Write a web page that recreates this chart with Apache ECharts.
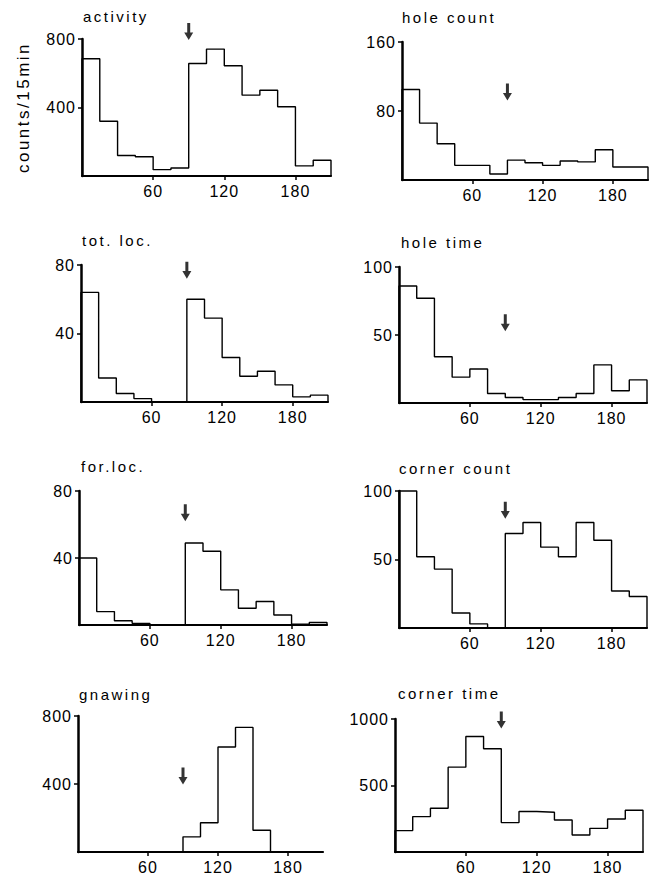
<!DOCTYPE html>
<html>
<head>
<meta charset="utf-8">
<script src="https://cdn.jsdelivr.net/npm/echarts@6/dist/echarts.min.js"></script>
<style>
  html, body { margin: 0; padding: 0; background: #fff; }
  #chart { width: 655px; height: 881px; }
  #chart text { letter-spacing: 2px; }
  #chart text[style*="15px"] { letter-spacing: 2.5px; }
  #chart text[style*="16px"] { letter-spacing: 1px; }
  #chart text[style*="17px"] { letter-spacing: 2.5px; }
</style>
</head>
<body>
<div id="chart"></div>
<script>
// ---- data (15-min bins, minutes) ----
const binStarts = [0, 15, 30, 45, 60, 75, 90, 105, 120, 135, 150, 165, 180, 195];
const binWidth = 15;
const xTicks = [60, 120, 180];
const arrowTime = 90;

const titles = ['activity', 'hole count', 'tot. loc.', 'hole time', 'for.loc.', 'corner count', 'gnawing', 'corner time'];

const activity    = [685, 320, 120, 112, 37, 47, 657, 741, 644, 472, 501, 404, 59, 92];
const holeCount   = [105, 66, 42, 17, 17, 7, 23, 20, 17, 22, 21, 35, 15, 15];
const totLoc      = [64, 14, 5, 2, 0, 0, 60, 49, 26, 15, 18, 10, 3, 4];
const holeTime    = [86, 77, 34, 19, 25, 7, 4, 2.5, 2.5, 4, 7, 28, 9, 17];
const forLoc      = [40, 8, 2.5, 1, 0, 0, 49, 44, 21, 10, 14, 6, 0.5, 1.5];
const cornerCount = [100, 52, 43, 11, 3, 0, 69, 77, 59, 52, 77, 64, 27, 23];
const gnawing     = [0, 0, 0, 0, 0, 0, 89, 172, 618, 733, 128, 0, 0, 0];
const cornerTime  = [161, 266, 329, 638, 868, 776, 221, 304, 299, 241, 128, 178, 248, 314];

const yMax   = [800, 160, 80, 100, 80, 100, 800, 1000];
const yTicks = [[400, 800], [80, 160], [40, 80], [50, 100], [40, 80], [50, 100], [400, 800], [500, 1000]];
const arrowY = [844, 102, 77, 59, 67, 86, 447, 992];

const seriesValues = [activity, holeCount, totLoc, holeTime, forLoc, cornerCount, gnawing, cornerTime];
const yName = 'counts/15min';

// ---- layout (pixels) ----
const grids = [
  { left: 82,  top: 39,  width: 249, height: 137 },
  { left: 402, top: 42,  width: 246, height: 138 },
  { left: 81,  top: 265, width: 247, height: 137 },
  { left: 399, top: 267, width: 248, height: 136 },
  { left: 79,  top: 491, width: 248, height: 134 },
  { left: 399, top: 491, width: 248, height: 137 },
  { left: 78,  top: 716, width: 245, height: 136 },
  { left: 395, top: 719, width: 248, height: 133 }
];
const titlePos = [
  [83, 9], [402, 10], [82, 233], [401, 235], [81, 459], [399, 461], [79, 687], [398, 686]
];

const FONT = '"Liberation Sans", Arial, sans-serif';
const INK = '#000';
const arrowPath = 'path://M3,0 L6,0 L6,10 L9,10 L4.5,18 L0,10 L3,10 Z';

function toSteps(values) {
  const xMax = binStarts[binStarts.length - 1] + binWidth;
  const pts = [[binStarts[0], 0]];
  values.forEach((v, i) => pts.push([binStarts[i], v]));
  pts.push([xMax, values[values.length - 1]]);
  pts.push([xMax, 0]);
  return pts;
}

const option = {
  backgroundColor: '#fff',
  animation: false,
  grid: grids.map(g => Object.assign({ containLabel: false }, g)),
  xAxis: grids.map((g, i) => ({
    type: 'value', gridIndex: i, min: 0, max: binStarts[binStarts.length - 1] + binWidth,
    interval: 30,
    axisLine: { show: true, onZero: false, lineStyle: { color: INK, width: 2.2 } },
    axisTick: { show: true, length: 4, customValues: xTicks, lineStyle: { color: INK, width: 1.5 } },
    axisLabel: { show: true, customValues: xTicks, margin: 7, color: INK, fontSize: 16, fontFamily: FONT,
                 formatter: v => String(v) },
    splitLine: { show: false }
  })),
  yAxis: grids.map((g, i) => ({
    type: 'value', gridIndex: i, min: 0, max: yMax[i], interval: yMax[i] / 2,
    name: i === 0 ? yName : '',
    nameLocation: 'middle', nameRotate: 90, nameGap: 50,
    nameTextStyle: { color: INK, fontSize: 17, fontFamily: FONT },
    axisLine: { show: true, lineStyle: { color: INK, width: 2.5 } },
    axisTick: { show: true, length: 4, customValues: yTicks[i], lineStyle: { color: INK, width: 1.5 } },
    axisLabel: { show: true, customValues: yTicks[i], margin: 6, color: INK, fontSize: 16, fontFamily: FONT,
                 formatter: v => String(v) },
    splitLine: { show: false }
  })),
  series: [].concat(
    seriesValues.map((vals, i) => ({
      type: 'line', xAxisIndex: i, yAxisIndex: i, step: 'end',
      data: toSteps(vals), symbol: 'none', clip: false, silent: true,
      lineStyle: { color: INK, width: 1.4 }
    })),
    arrowY.map((ay, i) => ({
      type: 'scatter', xAxisIndex: i, yAxisIndex: i, clip: false, silent: true,
      data: [[arrowTime, ay]], symbol: arrowPath, symbolSize: [9, 17],
      itemStyle: { color: INK }
    }))
  ),
  graphic: titles.map((t, i) => ({
    type: 'text', left: titlePos[i][0], top: titlePos[i][1], silent: true,
    style: { text: t, font: '15px ' + FONT, fill: INK }
  }))
};

const chart = echarts.init(document.getElementById('chart'), null, { renderer: 'svg', width: 655, height: 881 });
chart.setOption(option);
</script>
</body>
</html>
